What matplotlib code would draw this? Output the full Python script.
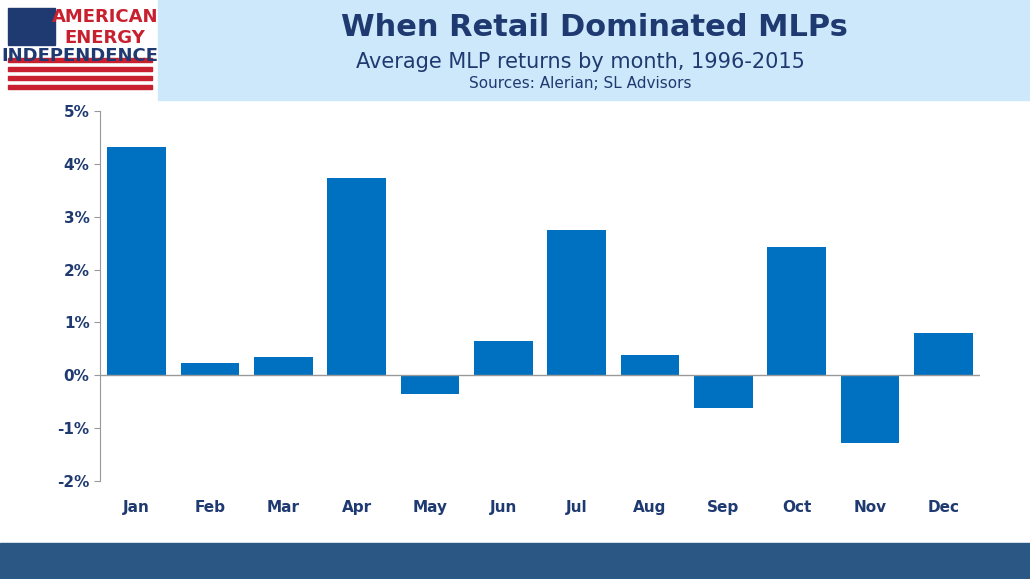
import matplotlib
matplotlib.use("Agg")
import matplotlib.pyplot as plt
from matplotlib.patches import Rectangle
from matplotlib.ticker import FuncFormatter, MultipleLocator

months = ["Jan", "Feb", "Mar", "Apr", "May", "Jun", "Jul", "Aug", "Sep", "Oct", "Nov", "Dec"]
returns = [4.32, 0.23, 0.34, 3.73, -0.36, 0.64, 2.75, 0.38, -0.61, 2.42, -1.29, 0.80]

W, H = 1030, 579
fig = plt.figure(figsize=(W / 100, H / 100), dpi=100)
fig.patch.set_facecolor("white")

# header box and bottom band (figure coords)
fig.patches.append(Rectangle((158 / W, 1 - 100 / H), 1 - 158 / W, 100 / H,
                             transform=fig.transFigure, color="#CCE8FA", zorder=0))
fig.patches.append(Rectangle((0, 0), 1, 36 / H, transform=fig.transFigure,
                             color="#2B5785", zorder=0))

# logo: flag + stripes + text
fig.patches.append(Rectangle((8 / W, 1 - 45 / H), 47 / W, 37 / H,
                             transform=fig.transFigure, color="#1F3A70"))
for i in range(4):
    y = 1 - (62 + i * 9) / H
    fig.patches.append(Rectangle((8 / W, y), 144 / W, 4 / H,
                                 transform=fig.transFigure, color="#C8202F"))
fig.text(105 / W, 1 - 17 / H, "AMERICAN", color="#C8202F", fontsize=13,
         fontweight="bold", ha="center", va="center")
fig.text(105 / W, 1 - 38 / H, "ENERGY", color="#C8202F", fontsize=13,
         fontweight="bold", ha="center", va="center")
fig.text(80 / W, 1 - 56 / H, "INDEPENDENCE", color="#1F3A70", fontsize=13,
         fontweight="bold", ha="center", va="center")

fig.text(594 / W, 1 - 28 / H, "When Retail Dominated MLPs", color="#1F3A70",
         fontsize=22, fontweight="bold", ha="center", va="center")
fig.text(580 / W, 1 - 62 / H, "Average MLP returns by month, 1996-2015",
         color="#1F3A70", fontsize=15, ha="center", va="center")
fig.text(580 / W, 1 - 83 / H, "Sources: Alerian; SL Advisors",
         color="#1F3A70", fontsize=11, ha="center", va="center")

ax = fig.add_axes([100 / W, 1 - 481 / H, 880 / W, 370 / H])
ax.bar(range(len(months)), returns, width=0.8, color="#0070C0")
ax.set_xlim(-0.5, len(months) - 0.5)
ax.set_ylim(-2, 5)
ax.yaxis.set_major_locator(MultipleLocator(1))
ax.yaxis.set_major_formatter(FuncFormatter(lambda v, p: f"{v:.0f}%"))
ax.set_xticks(range(len(months)))
ax.set_xticklabels(months)
ax.spines[["top", "right", "bottom"]].set_visible(False)
ax.spines["left"].set_color("#999999")
ax.axhline(0, color="#999999", lw=1)
ax.tick_params(axis="x", length=0, pad=14)
ax.tick_params(axis="y", colors="#999999", labelcolor="#1F3A70", length=4)
for lab in ax.get_xticklabels() + ax.get_yticklabels():
    lab.set_fontweight("bold")
    lab.set_fontsize(11)
    lab.set_color("#1F3A70")

fig.savefig("out.png", dpi=100)
